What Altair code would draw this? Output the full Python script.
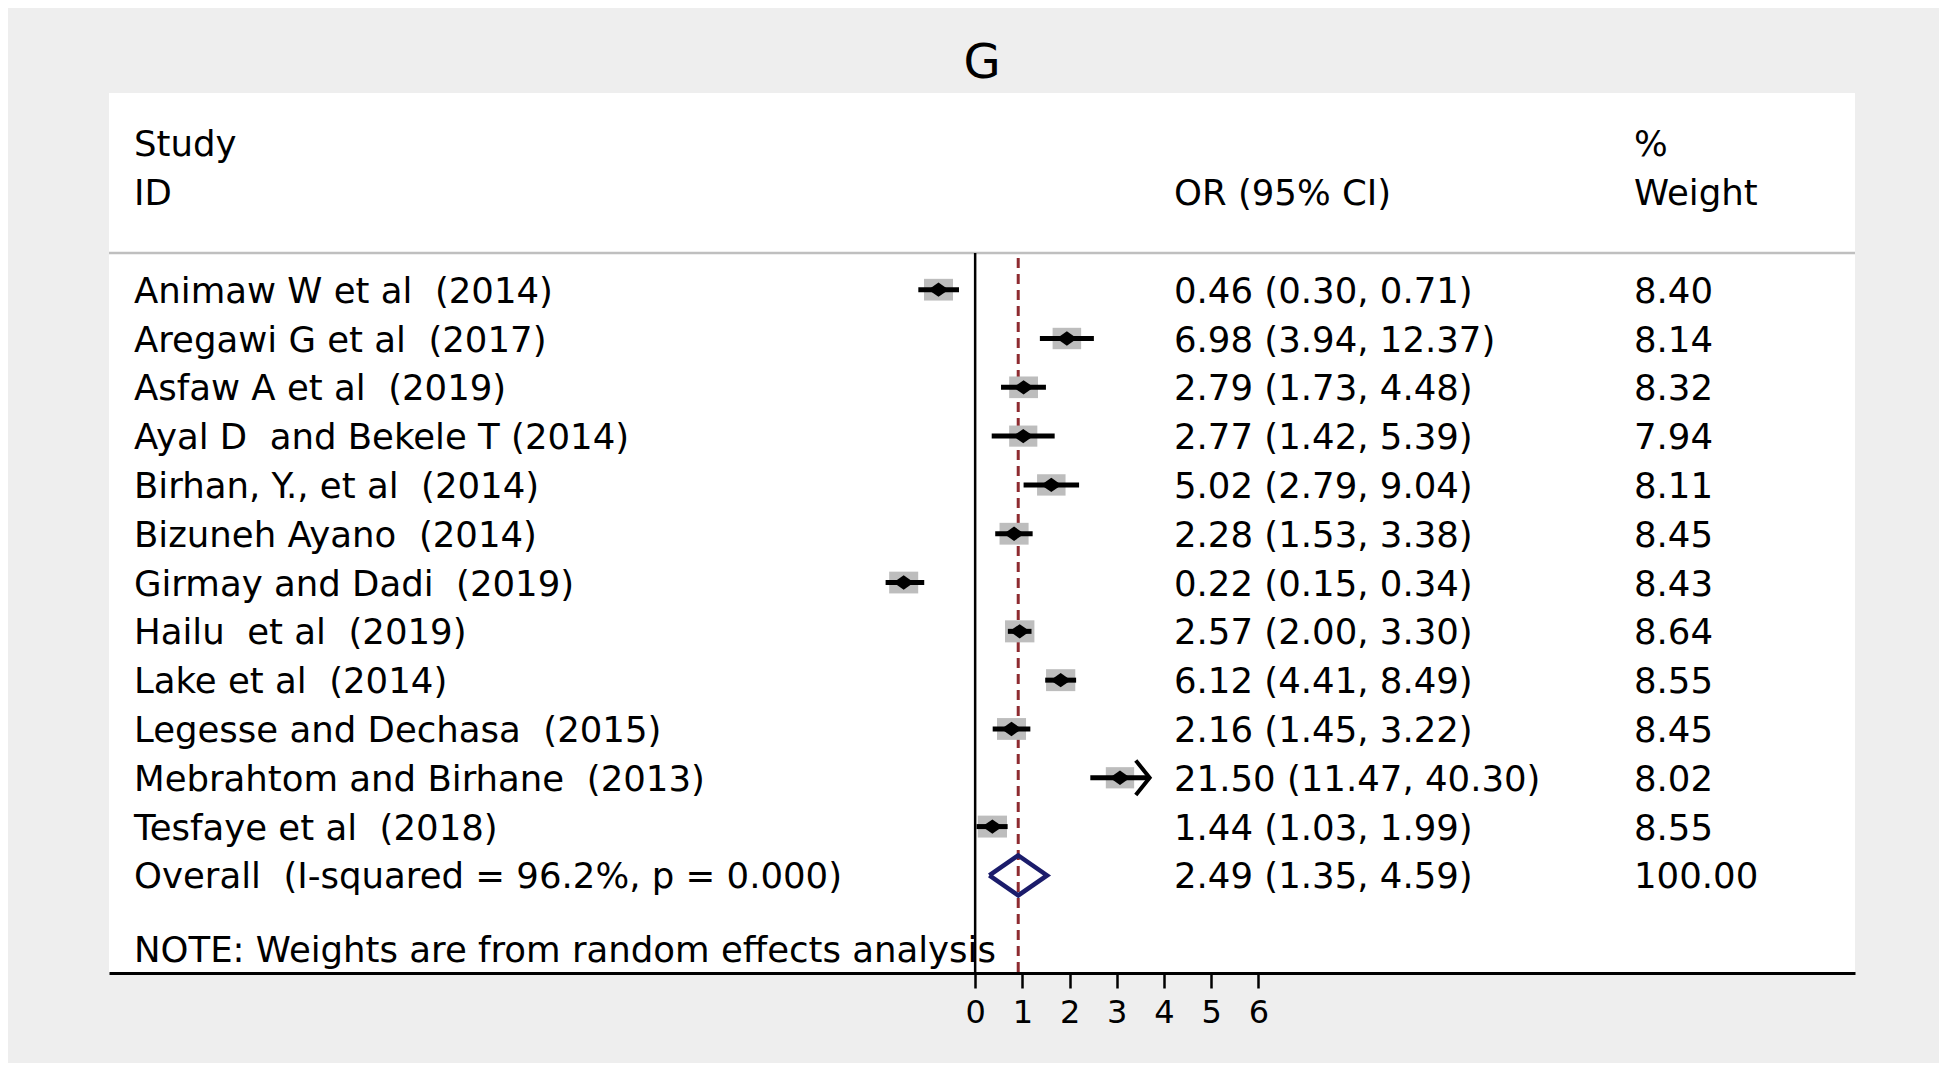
import math
import altair as alt
import pandas as pd

# ---------------- data ----------------
studies = [
    "Animaw W et al  (2014)",
    "Aregawi G et al  (2017)",
    "Asfaw A et al  (2019)",
    "Ayal D  and Bekele T (2014)",
    "Birhan, Y., et al  (2014)",
    "Bizuneh Ayano  (2014)",
    "Girmay and Dadi  (2019)",
    "Hailu  et al  (2019)",
    "Lake et al  (2014)",
    "Legesse and Dechasa  (2015)",
    "Mebrahtom and Birhane  (2013)",
    "Tesfaye et al  (2018)",
]
odds = [0.46, 6.98, 2.79, 2.77, 5.02, 2.28, 0.22, 2.57, 6.12, 2.16, 21.50, 1.44]
lower = [0.30, 3.94, 1.73, 1.42, 2.79, 1.53, 0.15, 2.00, 4.41, 1.45, 11.47, 1.03]
upper = [0.71, 12.37, 4.48, 5.39, 9.04, 3.38, 0.34, 3.30, 8.49, 3.22, 40.30, 1.99]
weights = [8.40, 8.14, 8.32, 7.94, 8.11, 8.45, 8.43, 8.64, 8.55, 8.45, 8.02, 8.55]

overall_label = "Overall  (I-squared = 96.2%, p = 0.000)"
overall_or, overall_lo, overall_hi, overall_w = 2.49, 1.35, 4.59, 100.00
note = "NOTE: Weights are from random effects analysis"
tick_values = [0, 1, 2, 3, 4, 5, 6]
arrow_beyond = 30  # CI upper limits beyond this get an arrow head


def keep_spaces(s):
    return s.replace("  ", " \u00a0")


# ---------------- layout / style ----------------
W, H = 1746, 880
FONT = "DejaVu Sans"
FS = 35.5
NAVY = "#1b1c6b"
DARKRED = "#8e2b30"
SQ_GREY = "#bdbdbd"
COL_LABEL, COL_OR, COL_W = 25, 1065, 1525

n = len(studies)
df = pd.DataFrame({
    "row": list(range(n)),
    "label": [keep_spaces(s) for s in studies],
    "or": odds, "lo": lower, "hi": upper, "w": weights,
})
df["ortxt"] = [f"{o:.2f} ({l:.2f}, {h:.2f})" for o, l, h in zip(odds, lower, upper)]
df["wtxt"] = [f"{w:.2f}" for w in weights]

ov_row = n
note_row = n + 1.5
sep_row = -0.75
bottom_row = n + 2
top_row = -4.03

xs = alt.Scale(domain=[-18.35, 18.64], nice=False, zero=False)
ys = alt.Scale(domain=[top_row, bottom_row], reverse=True, nice=False, zero=False)
xaxis = alt.Axis(values=tick_values, title=None, grid=False, domainColor="black",
                 domainWidth=3, tickColor="black", tickWidth=2.5, tickSize=15,
                 labelFont=FONT, labelFontSize=32, labelColor="black",
                 labelPadding=9, labelFlush=False, labelOverlap=False)

base = alt.Chart(df)

sep = alt.Chart(pd.DataFrame({"r": [sep_row]})).mark_rule(
    color="#bfbfbf", strokeWidth=2.5).encode(
    x=alt.value(0), x2=alt.value(W),
    y=alt.Y("r:Q", scale=ys, axis=None))

nullline = alt.Chart(pd.DataFrame({"v": [0.0], "a": [sep_row], "b": [bottom_row]})).mark_rule(
    color="black", strokeWidth=2.5).encode(
    x=alt.X("v:Q", scale=xs, axis=xaxis),
    y=alt.Y("a:Q", scale=ys, axis=None), y2="b:Q")

ovline = alt.Chart(pd.DataFrame({"o": [overall_or], "a": [sep_row + 0.1], "b": [bottom_row]})).transform_calculate(
    v="log(datum.o)").mark_rule(
    color=DARKRED, strokeWidth=3, strokeDash=[10, 6]).encode(
    x=alt.X("v:Q", scale=xs, axis=xaxis),
    y=alt.Y("a:Q", scale=ys, axis=None), y2="b:Q")

logs = base.transform_calculate(
    lx="log(datum.or)", llo="log(datum.lo)", lhi="log(datum.hi)")

squares = logs.mark_point(
    shape="M -1 -0.75 L 1 -0.75 L 1 0.75 L -1 0.75 Z", filled=True,
    color=SQ_GREY, opacity=1).encode(
    x=alt.X("lx:Q", scale=xs, axis=xaxis),
    y=alt.Y("row:Q", scale=ys, axis=None),
    size=alt.Size("w:Q", scale=alt.Scale(domain=[0, 10], range=[0, 1000]), legend=None))

ci = logs.mark_rule(color="black", strokeWidth=5).encode(
    x=alt.X("llo:Q", scale=xs, axis=xaxis), x2="lhi:Q",
    y=alt.Y("row:Q", scale=ys, axis=None))

dots = logs.mark_point(
    shape="M -1 0 L 0 -0.7 L 1 0 L 0 0.7 Z", filled=True, color="black",
    size=420, opacity=1).encode(
    x=alt.X("lx:Q", scale=xs, axis=xaxis),
    y=alt.Y("row:Q", scale=ys, axis=None))

arrows = logs.transform_filter(f"datum.hi > {arrow_beyond}").mark_point(
    shape="M -0.8 -1 L 0 0 L -0.8 1", filled=False, color="black",
    strokeWidth=4, size=1200, opacity=1).encode(
    x=alt.X("lhi:Q", scale=xs, axis=xaxis),
    y=alt.Y("row:Q", scale=ys, axis=None))

dh = 0.41
dia_df = pd.DataFrame({
    "o": [overall_lo, overall_or, overall_hi, overall_or, overall_lo],
    "r": [ov_row, ov_row - dh, ov_row, ov_row + dh, ov_row],
    "k": [0, 1, 2, 3, 4],
})
diamond = alt.Chart(dia_df).transform_calculate(v="log(datum.o)").mark_line(
    color=NAVY, strokeWidth=4.5, strokeJoin="miter").encode(
    x=alt.X("v:Q", scale=xs, axis=xaxis),
    y=alt.Y("r:Q", scale=ys, axis=None),
    order="k:Q")

txt_kw = dict(align="left", baseline="middle", font=FONT, fontSize=FS, color="black", dy=2)

labels = base.mark_text(**txt_kw).encode(
    x=alt.value(COL_LABEL), y=alt.Y("row:Q", scale=ys, axis=None), text="label:N")
ortext = base.mark_text(**txt_kw).encode(
    x=alt.value(COL_OR), y=alt.Y("row:Q", scale=ys, axis=None), text="ortxt:N")
wtext = base.mark_text(**txt_kw).encode(
    x=alt.value(COL_W), y=alt.Y("row:Q", scale=ys, axis=None), text="wtxt:N")

extra = pd.DataFrame({
    "r": [-3, -2, -2, -3, -2, ov_row, ov_row, ov_row, note_row],
    "c": [COL_LABEL, COL_LABEL, COL_OR, COL_W, COL_W, COL_LABEL, COL_OR, COL_W, COL_LABEL],
    "t": ["Study", "ID", "OR (95% CI)", "%", "Weight",
          keep_spaces(overall_label),
          f"{overall_or:.2f} ({overall_lo:.2f}, {overall_hi:.2f})",
          f"{overall_w:.2f}", note],
})
extratext = alt.Chart(extra).mark_text(**txt_kw).encode(
    x=alt.X("c:Q", scale=None), y=alt.Y("r:Q", scale=ys, axis=None), text="t:N")

chart = alt.layer(
    sep, nullline, ovline, squares, ci, dots, arrows, diamond,
    labels, ortext, wtext, extratext,
).properties(
    width=W, height=H,
    title=alt.TitleParams("G", font=FONT, fontSize=48, fontWeight="normal",
                          color="black", anchor="middle", offset=5),
    autosize=alt.AutoSizeParams(type="none"),
    padding={"left": 101, "top": 85, "right": 84, "bottom": 90},
    background="#eeeeee",
).configure_view(fill="white", strokeWidth=0).configure_axis(
    labelFontSize=32, labelFont=FONT, labelColor="black")

chart.save("out.html", embed_options={"renderer": "svg", "actions": False})
